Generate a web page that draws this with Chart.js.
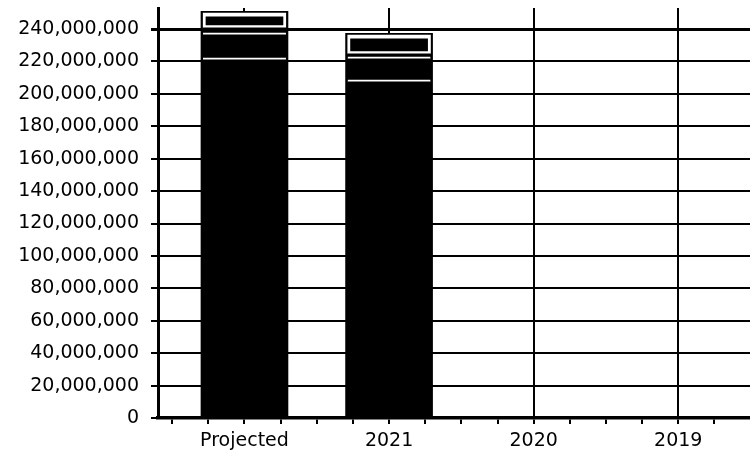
<!DOCTYPE html>
<html><head><meta charset="utf-8">
<script src="https://cdn.jsdelivr.net/npm/chart.js@4.4.1/dist/chart.umd.min.js"></script>
<style>html,body{margin:0;padding:0;background:#fff}canvas{display:block}</style>
</head><body>
<canvas id="c" width="750" height="456"></canvas>
<script>
// Categories (x axis tick labels)
const categories = ['Projected', '2021', '2020', '2019'];
// Stacked segments, bottom to top
const baseValues = [222200000, 208600000, 0, 0];
const midValues  = [15500000, 14200000, 0, 0];
const bandValues = [3000000, 1900000, 0, 0];
const topValues  = [9300000, 11700000, 0, 0];
// Overall bar outline (total height)
const totalValues = [250900000, 237300000, 0, 0];
// Y tick labels
const yTickValues = [0, 20000000, 40000000, 60000000, 80000000, 100000000, 120000000,
  140000000, 160000000, 180000000, 200000000, 220000000, 240000000];
const yMax = 253000000;

const pts = arr => arr.map((v, i) => ({x: i, y: v}));
const FONT = {family: 'DejaVu Sans', size: 19};

const segBase = {
  type: 'bar', stack: 's', grouped: false, barThickness: 83, order: 1,
  backgroundColor: '#000', borderColor: '#fff', borderSkipped: false
};

new Chart(document.getElementById('c'), {
  type: 'bar',
  data: {
    datasets: [
      Object.assign({}, segBase, {label: 'Base', data: pts(baseValues), borderWidth: {top: 2, bottom: 0, left: 0, right: 0}}),
      Object.assign({}, segBase, {label: 'Mid', data: pts(midValues), borderWidth: {top: 2, bottom: 0, left: 0, right: 0}}),
      Object.assign({}, segBase, {label: 'Band', data: pts(bandValues), borderWidth: 0}),
      Object.assign({}, segBase, {label: 'Top', data: pts(topValues), borderWidth: {top: 4, bottom: 3, left: 3, right: 3}}),
      {type: 'bar', label: 'Total', data: pts(totalValues), stack: 'outline', grouped: false,
       barThickness: 87, order: 2, backgroundColor: '#000', borderWidth: 0}
    ]
  },
  options: {
    responsive: false,
    animation: false,
    layout: {padding: {top: 8, right: 0, left: 0, bottom: 0}},
    plugins: {legend: {display: false}, tooltip: {enabled: false}},
    scales: {
      x: {
        type: 'linear',
        offset: false,
        min: -0.598, max: 3.496,
        afterBuildTicks: s => {
          const t = [];
          for (let k = -2; k <= 13; k++) t.push({value: k / 4});
          s.ticks = t;
        },
        afterFit: s => { s.height = 38; s.paddingLeft = 0; s.paddingRight = 0; },
        ticks: {
          autoSkip: false, maxRotation: 0, color: '#000', font: FONT, padding: 6,
          callback: v => Number.isInteger(v) && categories[v] !== undefined ? categories[v] : ''
        },
        grid: {
          offset: false,
          color: c => (c.tick && Number.isInteger(c.tick.value)) ? '#000' : 'rgba(0,0,0,0)',
          tickColor: '#000', lineWidth: 2, tickLength: 6
        },
        border: {display: true, color: '#000', width: 3.5}
      },
      y: {
        stacked: true,
        min: 0, max: yMax,
        afterBuildTicks: s => { s.ticks = yTickValues.map(v => ({value: v})); },
        afterFit: s => { s.width = 158; s.paddingTop = 0; s.paddingBottom = 0; },
        ticks: {
          color: '#000', font: FONT, padding: 12,
          callback: v => Number(v).toLocaleString('en-US')
        },
        grid: {
          color: '#000', tickColor: '#000', tickLength: 7,
          lineWidth: c => (c.tick && c.tick.value === 240000000) ? 3 : 2
        },
        border: {display: true, color: '#000', width: 3}
      }
    }
  }
});
</script>
</body></html>
